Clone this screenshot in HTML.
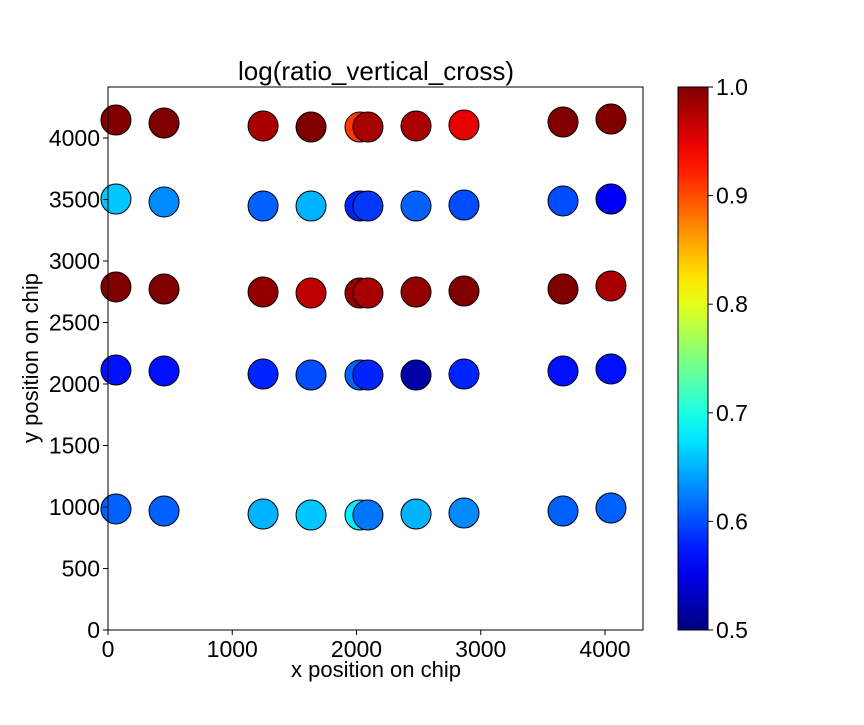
<!DOCTYPE html>
<html><head><meta charset="utf-8"><style>
body{margin:0;background:#fff;}
svg text{font-family:"Liberation Sans",sans-serif;fill:#000;}
</style></head><body>
<svg id="chart" width="864" height="720" xmlns="http://www.w3.org/2000/svg"></svg>
<script>
const xs = [64, 451, 1248, 1634, 2028, 2092, 2479, 2865, 3662, 4048];
const rowY = [
 [4146,4122,4098,4089,4089,4089,4098,4106,4130,4154],
 [3504,3480,3447,3447,3447,3447,3447,3455,3488,3504],
 [2789,2772,2748,2740,2740,2740,2748,2756,2772,2797],
 [2114,2106,2081,2073,2073,2073,2073,2081,2106,2122],
 [984,967,943,935,935,935,943,951,967,992]
];
const rowC = [
 [1.0,1.0,0.98,1.0,0.91,0.98,0.98,0.95,1.0,1.0],
 [0.66,0.63,0.61,0.65,0.58,0.59,0.61,0.60,0.60,0.56],
 [1.0,1.0,0.99,0.97,0.99,0.98,0.99,1.0,1.0,0.98],
 [0.57,0.57,0.58,0.60,0.61,0.58,0.52,0.58,0.57,0.57],
 [0.61,0.61,0.65,0.66,0.68,0.62,0.65,0.63,0.61,0.61]
];
const xTicks = [0,1000,2000,3000,4000];
const yTicks = [0,500,1000,1500,2000,2500,3000,3500,4000];
const cTicks = [0.5,0.6,0.7,0.8,0.9,1.0];

const NS="http://www.w3.org/2000/svg";
const svg=document.getElementById('chart');
const L=108,R=643,T=87,B=630;
const sx=v=>L+v*0.12425;
const sy=v=>B-v*0.123;
const cy=v=>B-(v-0.5)/0.5*(B-T);
function jet(t){t=Math.max(0,Math.min(1,t));const c=x=>Math.round(255*Math.max(0,Math.min(1,x)));
 return `rgb(${c(1.5-Math.abs(4*t-3))},${c(1.5-Math.abs(4*t-2))},${c(1.5-Math.abs(4*t-1))})`;}
function mk(tag,attrs,parent){const e=document.createElementNS(NS,tag);for(const k in attrs)e.setAttribute(k,attrs[k]);(parent||svg).appendChild(e);return e;}

let t=mk('text',{x:376,y:80,'font-size':26,'text-anchor':'middle'});t.textContent='log(ratio_vertical_cross)';



for(let r=0;r<rowY.length;r++)for(let i=0;i<xs.length;i++){
 const c=mk('circle',{cx:sx(xs[i]),cy:sy(rowY[r][i]),r:15,fill:jet((rowC[r][i]-0.5)/0.5),stroke:'#000','stroke-width':1});
 
 
}
const frame=mk('rect',{x:L,y:T,width:R-L,height:B-T,fill:'none',stroke:'#000','stroke-width':1});



xTicks.forEach(v=>{const x=sx(v);mk('line',{x1:x,x2:x,y1:B,y2:B+5,stroke:'#000'});
 const tx=mk('text',{x:x,y:B+27,'font-size':23,'text-anchor':'middle'});tx.textContent=v;
 
 });
yTicks.forEach(v=>{const y=sy(v);mk('line',{x1:L-5,x2:L,y1:y,y2:y,stroke:'#000'});
 const tx=mk('text',{x:L-8,y:y+8,'font-size':23,'text-anchor':'end'});tx.textContent=v;
 
 });
let xl=mk('text',{x:376,y:677,'font-size':22,'text-anchor':'middle'});xl.textContent='x position on chip';


let yl=mk('text',{x:38,y:358,'font-size':22,'text-anchor':'middle',transform:'rotate(-90 38 358)'});yl.textContent='y position on chip';



const defs=mk('defs',{});const g=mk('linearGradient',{id:'jetg',x1:0,y1:1,x2:0,y2:0},defs);
for(let i=0;i<=20;i++)mk('stop',{offset:i/20,'stop-color':jet(i/20)},g);
const cb=mk('rect',{x:678,y:T,width:30,height:B-T,fill:'url(#jetg)',stroke:'#000','stroke-width':1});


cTicks.forEach(v=>{const y=cy(v);mk('line',{x1:708,x2:713,y1:y,y2:y,stroke:'#000'});
 const tx=mk('text',{x:716,y:y+8,'font-size':23});tx.textContent=v.toFixed(1);
 
 });
</script>
</body></html>
